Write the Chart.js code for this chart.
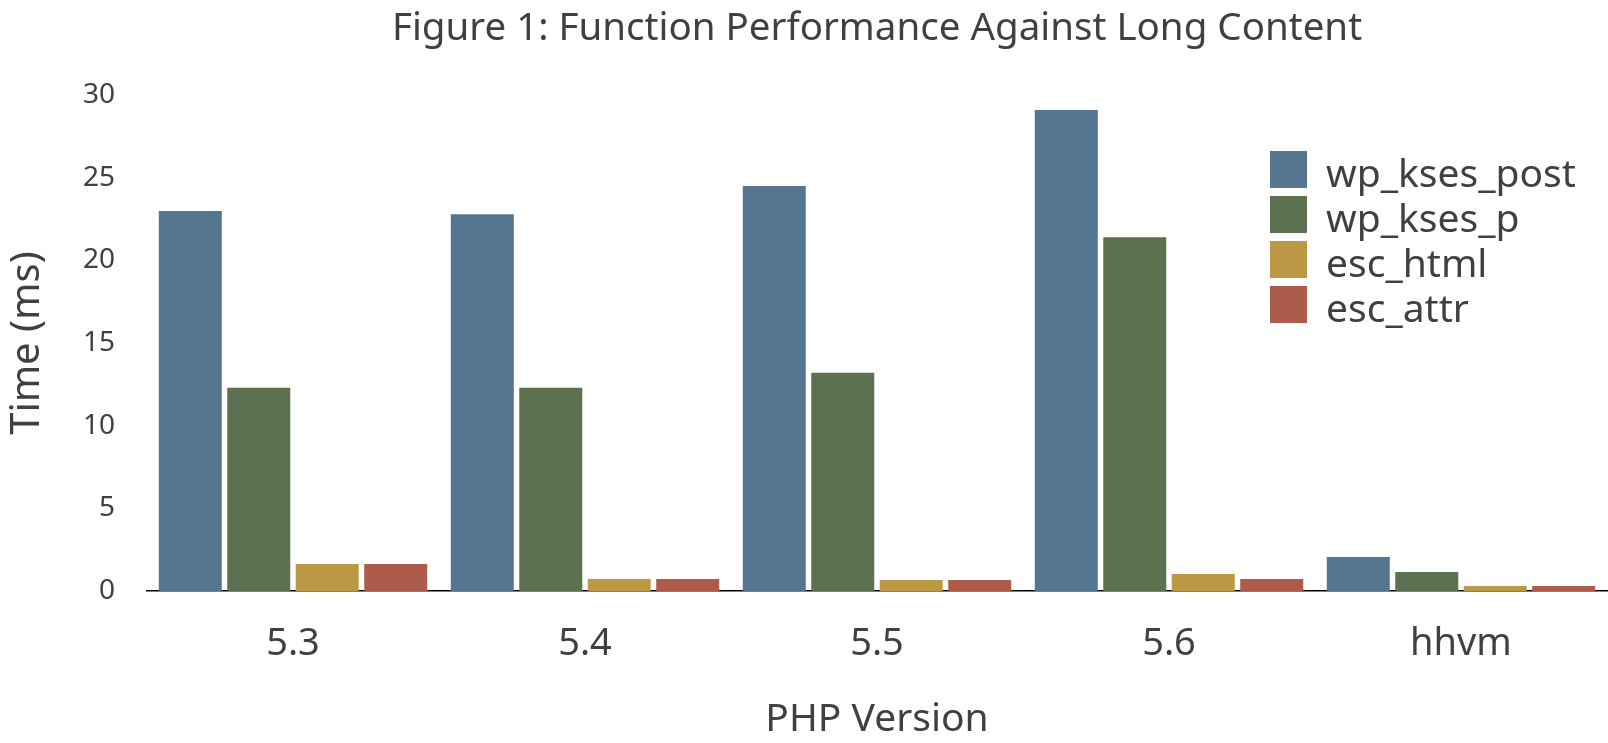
<!DOCTYPE html>
<html>
<head>
<meta charset="utf-8">
<script src="https://cdn.jsdelivr.net/npm/chart.js@4"></script>
<style>
  body { margin: 0; background: #fff; }
  #wrap { width: 1608px; height: 743px; }
</style>
</head>
<body>
<div id="wrap"><canvas id="perfChart"></canvas></div>
<script>
let versions = ['5.3', '5.4', '5.5', '5.6', 'hhvm'];

let seriesNames = ['wp_kses_post', 'wp_kses_p', 'esc_html', 'esc_attr'];

let ksesPost = [23.0, 22.8, 24.5, 29.1, 2.06];
let ksesP = [12.3, 12.3, 13.2, 21.4, 1.15];
let escHtml = [1.63, 0.73, 0.66, 1.03, 0.3];
let escAttr = [1.63, 0.73, 0.66, 0.73, 0.3];

let yTicks = [0, 5, 10, 15, 20, 25, 30];

let barColors = [
    'rgb(86, 117, 145)',
    'rgb(92, 113, 80)',
    'rgb(186, 152, 69)',
    'rgb(173, 92, 75)'
];

const textColor = '#404040';
const fontFamily = '"Noto Sans", "Open Sans", sans-serif';

// legend drawn inside the plot area, top right
const insideLegend = {
    id: 'insideLegend',
    afterDraw(chart) {
        const ctx = chart.ctx;
        const box = 37, step = 45, left = 1270, top = 151;
        ctx.save();
        ctx.font = '39px ' + fontFamily;
        ctx.textBaseline = 'alphabetic';
        ctx.textAlign = 'left';
        chart.data.datasets.forEach((ds, i) => {
            const y = top + i * step;
            ctx.fillStyle = ds.backgroundColor;
            ctx.fillRect(left, y, box, box);
            ctx.fillStyle = textColor;
            ctx.fillText(ds.label, left + 56, y + 36);
        });
        ctx.restore();
    }
};

const seriesValues = [ksesPost, ksesP, escHtml, escAttr];

const data = {
    labels: versions,
    datasets: seriesNames.map((name, i) => ({
        label: name,
        data: seriesValues[i],
        backgroundColor: barColors[i],
        categoryPercentage: 0.938,
        barPercentage: 0.92
    }))
};

const config = {
    type: 'bar',
    data: data,
    plugins: [insideLegend],
    options: {
        responsive: true,
        maintainAspectRatio: false,
        animation: false,
        layout: {
            padding: { right: 1 }
        },
        plugins: {
            legend: {
                display: false
            },
            tooltip: {
                enabled: false
            },
            title: {
                display: true,
                fullSize: false,
                text: 'Figure 1: Function Performance Against Long Content',
                color: textColor,
                font: { family: fontFamily, size: 38.5, weight: 'normal' },
                padding: { top: 6, bottom: 43 }
            }
        },
        scales: {
            x: {
                grid: { display: false },
                border: { display: true, color: '#000', width: 1.5 },
                ticks: {
                    color: textColor,
                    font: { family: fontFamily, size: 38 },
                    padding: 22
                },
                title: {
                    display: true,
                    text: 'PHP Version',
                    color: textColor,
                    font: { family: fontFamily, size: 39 },
                    padding: { top: 18, bottom: 0 }
                },
                afterFit: (scale) => { scale.height = 152; }
            },
            y: {
                min: 0,
                max: 30,
                grid: { display: false },
                border: { display: false },
                afterBuildTicks: (scale) => {
                    scale.ticks = yTicks.map(v => ({ value: v }));
                },
                ticks: {
                    color: textColor,
                    font: { family: fontFamily, size: 28 },
                    padding: 24
                },
                title: {
                    display: true,
                    text: 'Time (ms)',
                    color: textColor,
                    font: { family: fontFamily, size: 40 },
                    padding: { top: 4, bottom: 0 }
                },
                afterFit: (scale) => { scale.width = 147; }
            }
        }
    }
};

const chart = new Chart(
    document.getElementById('perfChart'),
    config
);
</script>
</body>
</html>
